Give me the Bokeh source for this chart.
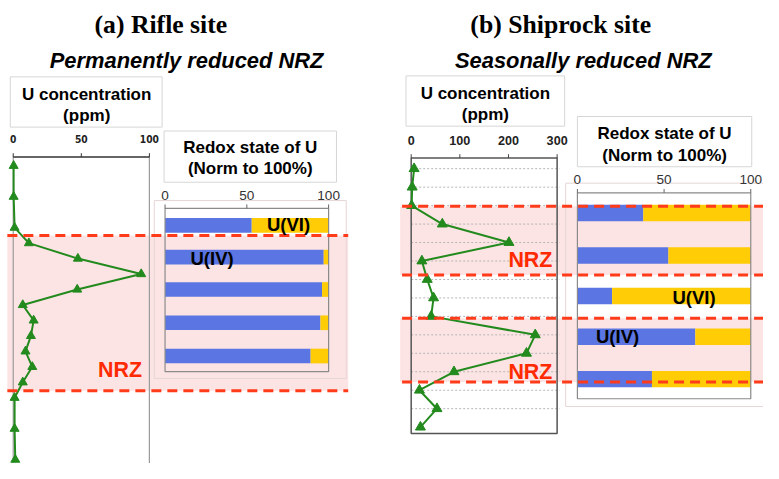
from bokeh.plotting import figure
from bokeh.models import Range1d, ColumnDataSource
from bokeh.core.properties import value
from bokeh.embed import file_html
from bokeh.resources import INLINE
import numpy as np

# ---------------- data ----------------
# (a) Rifle site: U concentration profile (ppm) vs sample depth (arbitrary depth units)
rifle_depth = [0, 2, 4, 5, 6, 7, 8, 9, 10, 11, 12, 13, 14, 15, 17, 19]
rifle_u = [0.3, 0.3, 1, 11.5, 47.5, 94, 47, 7, 15, 13, 9, 14, 7, 1, 1, 1.5]
rifle_redox_depth = [3.85, 5.9, 8.0, 10.15, 12.3]
rifle_u4 = [53, 97, 96, 95, 89]          # % U(IV)
rifle_nrz_top = [4.5]
rifle_nrz_bottom = [14.55]

# (b) Shiprock site
ship_depth = [0, 1, 2, 3, 4, 5, 6, 7, 8, 9, 10, 11, 12, 13, 14]
ship_u = [6, 2, 1, 64, 201, 22, 33, 46, 41, 255, 237, 88, 17, 53, 19]
ship_redox_depth = [2.4, 4.7, 6.9, 9.1, 11.4]
ship_u4 = [38, 52.5, 20, 68, 43]          # % U(IV)
ship_nrz_top = [2.04, 8.1]
ship_nrz_bottom = [5.76, 11.55]

conc_a_ticks = [0, 50, 100]
conc_b_ticks = [0, 100, 200, 300]
redox_ticks = [0, 50, 100]

# ---------------- layout ----------------
# layout constants are in reference-image pixels (779 x 479); the frame
# (763 x 463) shows that whole area, slightly scaled.
W, H = 763, 463
RW, RH = 779, 479
FS = 0.973  # font scale

def rng(p0, p1, v0, v1, size):
    k = (v1 - v0) / (p1 - p0)
    a = v0 + (0 - p0) * k
    b = v0 + (size - p0) * k
    return a, b

def fs(px):
    return "%.1fpx" % (px * FS)

p = figure(width=W, height=H, output_backend="svg", toolbar_location=None,
           x_range=Range1d(0, RW), y_range=Range1d(RH, 0),
           min_border=0, x_axis_location=None, y_axis_location=None,
           outline_line_color=None, background_fill_color="white")
p.grid.visible = False

ca = rng(13, 152, 0, 100, RW)
cb = rng(419.3, 568.3, 0, 300, RW)
ra = rng(168, 335, 0, 100, RW)
rb = rng(589, 766, 0, 100, RW)
da = rng(171, 187, 0, 1, RH)
db = rng(174, 193.1, 0, 1, RH)
p.extra_x_ranges = {"ca": Range1d(*ca), "cb": Range1d(*cb),
                    "ra": Range1d(*ra), "rb": Range1d(*rb)}
p.extra_y_ranges = {"da": Range1d(da[1], da[0]), "db": Range1d(db[1], db[0])}

SANS = value("Liberation Sans")
PINK = "#fde4e4"
RED = "#ff3b1a"
GREEN = "#238a1e"
BLUE = "#5b76e2"
YELLOW = "#ffcc05"
BOXLINE = "#d6d6d6"

# title boxes and faint panel boxes
p.quad(left=[10, 167, 414, 589], right=[165, 343, 576, 767],
       top=[79, 135, 78, 120], bottom=[131, 188, 130, 172],
       fill_color="white", line_color=BOXLINE, line_width=1)
p.quad(left=[157, 577], right=[353, 800], top=[207, 189], bottom=[391, 420],
       fill_color="white", line_color=None)

# NRZ bands
p.quad(left=7, right=355, top="t", bottom="b", y_range_name="da",
       source=ColumnDataSource(dict(t=rifle_nrz_top, b=rifle_nrz_bottom)),
       fill_color=PINK, line_color=None)
p.quad(left=408, right=800, top="t", bottom="b", y_range_name="db",
       source=ColumnDataSource(dict(t=ship_nrz_top, b=ship_nrz_bottom)),
       fill_color=PINK, line_color=None)
p.quad(left=[157, 577], right=[353, 800], top=[207, 189], bottom=[391, 420],
       fill_color=None, line_color="#e6d6d6", line_width=1)

# ---- (a) concentration panel ----
p.segment(x0=[0, 100], x1=[0, 100], y0=162, y1=490, x_range_name="ca",
          line_color="#9a9a9a", line_width=1.2)
p.segment(x0=0, x1=100, y0=162, y1=162, x_range_name="ca", line_color="#333", line_width=1.5)
p.segment(x0=conc_a_ticks, x1=conc_a_ticks, y0=162, y1=158, x_range_name="ca",
          line_color="#333", line_width=1)
p.text(x=conc_a_ticks, y=143, text=[str(t) for t in conc_a_ticks], x_range_name="ca",
       text_font=value("DejaVu Sans Condensed"), text_font_style="bold",
       text_font_size=fs(10.5), text_align="center", text_baseline="middle", text_color="#222")
p.line(rifle_u, rifle_depth, x_range_name="ca", y_range_name="da", line_color=GREEN, line_width=2)
p.scatter(rifle_u, rifle_depth, x_range_name="ca", y_range_name="da", marker="triangle",
          size=9, fill_color=GREEN, line_color=GREEN)

# ---- (a) redox panel ----
ru4 = np.array(rifle_u4, dtype=float)
p.hbar(y=rifle_redox_depth, left=0, right=ru4, height=0.95, x_range_name="ra",
       y_range_name="da", fill_color=BLUE, line_color=None)
p.hbar(y=rifle_redox_depth, left=ru4, right=100, height=0.95, x_range_name="ra",
       y_range_name="da", fill_color=YELLOW, line_color=None)
p.quad(left=0, right=100, top=215, bottom=384, x_range_name="ra",
       fill_color=None, line_color="#8a8a8a", line_width=1.2)
p.segment(x0=redox_ticks, x1=redox_ticks, y0=215, y1=211, x_range_name="ra",
          line_color="#666", line_width=1)
p.text(x=redox_ticks, y=202, text=[str(t) for t in redox_ticks], x_range_name="ra",
       text_font=SANS, text_font_size=fs(14), text_align="center",
       text_baseline="middle", text_color="#333")

# ---- (b) concentration panel ----
p.segment(x0=0, x1=305, y0=ship_depth[:-1], y1=ship_depth[:-1], x_range_name="cb",
          y_range_name="db", line_color="#b5b5b5", line_width=1, line_dash="2 2")
p.quad(left=0, right=300, top=163, bottom=448, x_range_name="cb",
       fill_color=None, line_color="#555", line_width=1.5)
p.segment(x0=conc_b_ticks, x1=conc_b_ticks, y0=163, y1=159, x_range_name="cb",
          line_color="#444", line_width=1)
p.text(x=conc_b_ticks, y=145, text=[str(t) for t in conc_b_ticks], x_range_name="cb",
       text_font=SANS, text_font_style="bold", text_font_size=fs(13),
       text_align="center", text_baseline="middle", text_color="#222")
p.line(ship_u, ship_depth, x_range_name="cb", y_range_name="db", line_color=GREEN, line_width=2)
p.scatter(ship_u, ship_depth, x_range_name="cb", y_range_name="db", marker="triangle",
          size=10, fill_color=GREEN, line_color=GREEN)

# ---- (b) redox panel ----
su4 = np.array(ship_u4, dtype=float)
p.hbar(y=ship_redox_depth, left=0, right=su4, height=0.89, x_range_name="rb",
       y_range_name="db", fill_color=BLUE, line_color=None)
p.hbar(y=ship_redox_depth, left=su4, right=100, height=0.89, x_range_name="rb",
       y_range_name="db", fill_color=YELLOW, line_color=None)
p.quad(left=0, right=100, top=199, bottom=412, x_range_name="rb",
       fill_color=None, line_color="#8a8a8a", line_width=1.2)
p.segment(x0=redox_ticks, x1=redox_ticks, y0=199, y1=195, x_range_name="rb",
          line_color="#666", line_width=1)
p.text(x=redox_ticks, y=185, text=[str(t) for t in redox_ticks], x_range_name="rb",
       text_font=SANS, text_font_size=fs(14), text_align="center",
       text_baseline="middle", text_color="#333")

# NRZ boundaries (dashed)
ra_bounds = rifle_nrz_top + rifle_nrz_bottom
sb_bounds = ship_nrz_top + ship_nrz_bottom
p.segment(x0=7, x1=355, y0=ra_bounds, y1=ra_bounds, y_range_name="da",
          line_color=RED, line_width=3, line_dash="10 6")
p.segment(x0=410, x1=800, y0=sb_bounds, y1=sb_bounds, y_range_name="db",
          line_color=RED, line_width=3, line_dash="10 6")

# ---- texts ----
def txt(x, y, s, size, color="black", font=SANS, style="bold"):
    p.text(x=[x], y=[y], text=[s], text_font=font, text_font_style=style,
           text_font_size=fs(size), text_color=color, text_align="center",
           text_baseline="middle")

SERIF = value("Liberation Serif")
txt(167, 25, "(a)  Rifle site", 26.4, font=SERIF)
txt(572, 25, "(b) Shiprock site", 26.4, font=SERIF)
txt(190, 62, "Permanently reduced NRZ", 22.5, style="bold italic")
txt(595, 62, "Seasonally reduced NRZ", 22.5, style="bold italic")
txt(88, 97, "U concentration", 17.5)
txt(88, 119, "(ppm)", 17.5)
txt(255, 152, "Redox state of U", 17.5)
txt(255, 174, "(Norm to 100%)", 17.5)
txt(495, 96, "U concentration", 17.5)
txt(495, 118, "(ppm)", 17.5)
txt(678, 138, "Redox state of U", 17.5)
txt(678, 160, "(Norm to 100%)", 17.5)
txt(294, 232, "U(VI)", 19)
txt(216, 267, "U(IV)", 19)
txt(708, 307, "U(VI)", 19)
txt(630, 348, "U(IV)", 19)
txt(122, 382, "NRZ", 22, color="#ff2a00")
txt(541, 268, "NRZ", 22, color="#ff2a00")
txt(541, 384, "NRZ", 22, color="#ff2a00")

open("out.html", "w").write(file_html(p, INLINE))
